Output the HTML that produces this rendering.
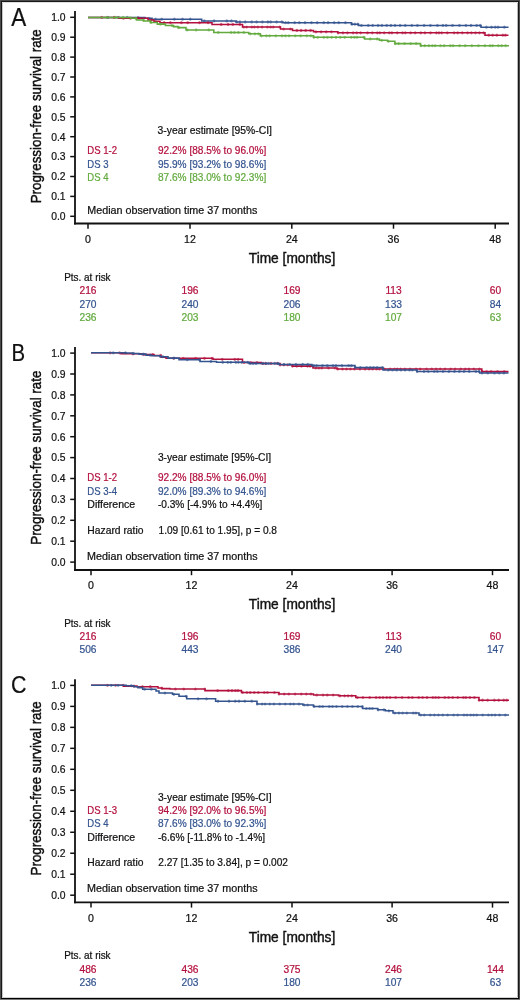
<!DOCTYPE html>
<html><head><meta charset="utf-8"><title>Kaplan-Meier progression-free survival</title>
<style>
html,body{margin:0;padding:0;background:#fff;}
body{width:520px;height:1000px;overflow:hidden;}
svg{display:block;will-change:transform;font-family:"Liberation Sans", sans-serif;}
text{stroke:currentColor;stroke-width:0.22px;}
text.big{stroke-width:0.42px;}
</style></head><body>
<svg width="520" height="1000" viewBox="0 0 520 1000">
<rect x="0" y="0" width="520" height="1000" fill="#4a4a4a"/>
<rect x="0" y="999" width="520" height="1" fill="#777"/>
<rect x="1" y="1" width="518" height="998" fill="#181818"/>
<rect x="1" y="998" width="518" height="1" fill="#000"/>
<rect x="2" y="2" width="516" height="996" fill="#fff"/>
<rect x="2" y="2" width="1" height="996" fill="#c8c8c8"/>
<rect x="517" y="2" width="1" height="996" fill="#b8b8b8"/>
<rect x="2" y="2" width="516" height="1" fill="#e0e0e0"/>
<rect x="2" y="997" width="516" height="1" fill="#d4d4d4"/>
<text x="11.3" y="25.5" font-size="25.6" fill="#111" color="#111" textLength="15.0" lengthAdjust="spacingAndGlyphs">A</text>
<line x1="75" y1="11" x2="75" y2="224.4" stroke="#111" stroke-width="1.8"/>
<line x1="74.1" y1="223.5" x2="509" y2="223.5" stroke="#111" stroke-width="1.8"/>
<line x1="70.2" y1="17.3" x2="75" y2="17.3" stroke="#111" stroke-width="1.5"/>
<text x="65.6" y="21.1" font-size="11" fill="#111" color="#111" text-anchor="end" textLength="14.4" lengthAdjust="spacingAndGlyphs">1.0</text>
<line x1="70.2" y1="37.2" x2="75" y2="37.2" stroke="#111" stroke-width="1.5"/>
<text x="65.6" y="41.0" font-size="11" fill="#111" color="#111" text-anchor="end" textLength="14.4" lengthAdjust="spacingAndGlyphs">0.9</text>
<line x1="70.2" y1="57.099999999999994" x2="75" y2="57.099999999999994" stroke="#111" stroke-width="1.5"/>
<text x="65.6" y="60.9" font-size="11" fill="#111" color="#111" text-anchor="end" textLength="14.4" lengthAdjust="spacingAndGlyphs">0.8</text>
<line x1="70.2" y1="77.0" x2="75" y2="77.0" stroke="#111" stroke-width="1.5"/>
<text x="65.6" y="80.8" font-size="11" fill="#111" color="#111" text-anchor="end" textLength="14.4" lengthAdjust="spacingAndGlyphs">0.7</text>
<line x1="70.2" y1="96.89999999999999" x2="75" y2="96.89999999999999" stroke="#111" stroke-width="1.5"/>
<text x="65.6" y="100.7" font-size="11" fill="#111" color="#111" text-anchor="end" textLength="14.4" lengthAdjust="spacingAndGlyphs">0.6</text>
<line x1="70.2" y1="116.8" x2="75" y2="116.8" stroke="#111" stroke-width="1.5"/>
<text x="65.6" y="120.6" font-size="11" fill="#111" color="#111" text-anchor="end" textLength="14.4" lengthAdjust="spacingAndGlyphs">0.5</text>
<line x1="70.2" y1="136.7" x2="75" y2="136.7" stroke="#111" stroke-width="1.5"/>
<text x="65.6" y="140.5" font-size="11" fill="#111" color="#111" text-anchor="end" textLength="14.4" lengthAdjust="spacingAndGlyphs">0.4</text>
<line x1="70.2" y1="156.6" x2="75" y2="156.6" stroke="#111" stroke-width="1.5"/>
<text x="65.6" y="160.4" font-size="11" fill="#111" color="#111" text-anchor="end" textLength="14.4" lengthAdjust="spacingAndGlyphs">0.3</text>
<line x1="70.2" y1="176.5" x2="75" y2="176.5" stroke="#111" stroke-width="1.5"/>
<text x="65.6" y="180.3" font-size="11" fill="#111" color="#111" text-anchor="end" textLength="14.4" lengthAdjust="spacingAndGlyphs">0.2</text>
<line x1="70.2" y1="196.4" x2="75" y2="196.4" stroke="#111" stroke-width="1.5"/>
<text x="65.6" y="200.2" font-size="11" fill="#111" color="#111" text-anchor="end" textLength="14.4" lengthAdjust="spacingAndGlyphs">0.1</text>
<line x1="70.2" y1="216.3" x2="75" y2="216.3" stroke="#111" stroke-width="1.5"/>
<text x="65.6" y="220.1" font-size="11" fill="#111" color="#111" text-anchor="end" textLength="14.4" lengthAdjust="spacingAndGlyphs">0.0</text>
<line x1="88" y1="223.5" x2="88" y2="228.7" stroke="#111" stroke-width="1.5"/>
<text x="88" y="242.5" font-size="10.6" fill="#111" color="#111" text-anchor="middle">0</text>
<line x1="190" y1="223.5" x2="190" y2="228.7" stroke="#111" stroke-width="1.5"/>
<text x="190" y="242.5" font-size="10.6" fill="#111" color="#111" text-anchor="middle">12</text>
<line x1="291.8" y1="223.5" x2="291.8" y2="228.7" stroke="#111" stroke-width="1.5"/>
<text x="291.8" y="242.5" font-size="10.6" fill="#111" color="#111" text-anchor="middle">24</text>
<line x1="393.5" y1="223.5" x2="393.5" y2="228.7" stroke="#111" stroke-width="1.5"/>
<text x="393.5" y="242.5" font-size="10.6" fill="#111" color="#111" text-anchor="middle">36</text>
<line x1="495.2" y1="223.5" x2="495.2" y2="228.7" stroke="#111" stroke-width="1.5"/>
<text x="495.2" y="242.5" font-size="10.6" fill="#111" color="#111" text-anchor="middle">48</text>
<text x="292" y="262.7" font-size="14.2" fill="#111" color="#111" text-anchor="middle" textLength="86.5" lengthAdjust="spacingAndGlyphs" class="big">Time [months]</text>
<text class="big" x="0" y="0" font-size="14.8" fill="#111" text-anchor="middle" textLength="174" lengthAdjust="spacingAndGlyphs" transform="translate(41.1,116.3) rotate(-90)">Progression-free survival rate</text>
<text x="64.2" y="280.59999999999997" font-size="10.3" fill="#111" color="#111" textLength="46.4" lengthAdjust="spacingAndGlyphs">Pts. at risk</text>
<text x="88" y="293.8" font-size="10.2" fill="#b3103e" color="#b3103e" text-anchor="middle">216</text>
<text x="190" y="293.8" font-size="10.2" fill="#b3103e" color="#b3103e" text-anchor="middle">196</text>
<text x="292" y="293.8" font-size="10.2" fill="#b3103e" color="#b3103e" text-anchor="middle">169</text>
<text x="393.5" y="293.8" font-size="10.2" fill="#b3103e" color="#b3103e" text-anchor="middle">113</text>
<text x="495.4" y="293.8" font-size="10.2" fill="#b3103e" color="#b3103e" text-anchor="middle">60</text>
<text x="88" y="307.5" font-size="10.2" fill="#34548f" color="#34548f" text-anchor="middle">270</text>
<text x="190" y="307.5" font-size="10.2" fill="#34548f" color="#34548f" text-anchor="middle">240</text>
<text x="292" y="307.5" font-size="10.2" fill="#34548f" color="#34548f" text-anchor="middle">206</text>
<text x="393.5" y="307.5" font-size="10.2" fill="#34548f" color="#34548f" text-anchor="middle">133</text>
<text x="495.4" y="307.5" font-size="10.2" fill="#34548f" color="#34548f" text-anchor="middle">84</text>
<text x="88" y="321" font-size="10.2" fill="#62aa3e" color="#62aa3e" text-anchor="middle">236</text>
<text x="190" y="321" font-size="10.2" fill="#62aa3e" color="#62aa3e" text-anchor="middle">203</text>
<text x="292" y="321" font-size="10.2" fill="#62aa3e" color="#62aa3e" text-anchor="middle">180</text>
<text x="393.5" y="321" font-size="10.2" fill="#62aa3e" color="#62aa3e" text-anchor="middle">107</text>
<text x="495.4" y="321" font-size="10.2" fill="#62aa3e" color="#62aa3e" text-anchor="middle">63</text>
<path d="M88,17.45H131V17.6H145V18.3H152V19.2H201.7V20.9H236V21.9H283V22.7H351.5V24.2H358.5V25.4H481V27.2H508.5" fill="none" stroke="#34548f" stroke-width="1.55" stroke-linejoin="miter"/>
<ellipse cx="107.9" cy="17.4" rx="1.3" ry="1.6" fill="#34548f" opacity="0.6"/>
<ellipse cx="118.3" cy="17.4" rx="1.3" ry="1.6" fill="#34548f" opacity="0.6"/>
<ellipse cx="127.2" cy="17.4" rx="1.3" ry="1.6" fill="#34548f" opacity="0.6"/>
<ellipse cx="138.0" cy="17.6" rx="1.3" ry="1.6" fill="#34548f" opacity="0.6"/>
<ellipse cx="149.1" cy="18.3" rx="1.3" ry="1.6" fill="#34548f" opacity="0.6"/>
<ellipse cx="155.6" cy="19.2" rx="1.3" ry="1.6" fill="#34548f" opacity="0.6"/>
<ellipse cx="161.7" cy="19.2" rx="1.3" ry="1.6" fill="#34548f" opacity="0.6"/>
<ellipse cx="174.4" cy="19.2" rx="1.3" ry="1.6" fill="#34548f" opacity="0.6"/>
<ellipse cx="182.5" cy="19.2" rx="1.3" ry="1.6" fill="#34548f" opacity="0.6"/>
<ellipse cx="190.3" cy="19.2" rx="1.3" ry="1.6" fill="#34548f" opacity="0.6"/>
<ellipse cx="204.3" cy="20.9" rx="1.3" ry="1.6" fill="#34548f" opacity="0.6"/>
<ellipse cx="214.1" cy="20.9" rx="1.3" ry="1.6" fill="#34548f" opacity="0.6"/>
<ellipse cx="226.8" cy="20.9" rx="1.3" ry="1.6" fill="#34548f" opacity="0.6"/>
<ellipse cx="231.4" cy="20.9" rx="1.3" ry="1.6" fill="#34548f" opacity="0.6"/>
<ellipse cx="236.8" cy="21.9" rx="1.3" ry="1.6" fill="#34548f" opacity="0.6"/>
<ellipse cx="239.9" cy="21.9" rx="1.3" ry="1.6" fill="#34548f" opacity="0.6"/>
<ellipse cx="245.3" cy="21.9" rx="1.3" ry="1.6" fill="#34548f" opacity="0.6"/>
<ellipse cx="251.7" cy="21.9" rx="1.3" ry="1.6" fill="#34548f" opacity="0.6"/>
<ellipse cx="256.6" cy="21.9" rx="1.3" ry="1.6" fill="#34548f" opacity="0.6"/>
<ellipse cx="262.4" cy="21.9" rx="1.3" ry="1.6" fill="#34548f" opacity="0.6"/>
<ellipse cx="267.9" cy="21.9" rx="1.3" ry="1.6" fill="#34548f" opacity="0.6"/>
<ellipse cx="270.7" cy="21.9" rx="1.3" ry="1.6" fill="#34548f" opacity="0.6"/>
<ellipse cx="276.6" cy="21.9" rx="1.3" ry="1.6" fill="#34548f" opacity="0.6"/>
<ellipse cx="281.8" cy="21.9" rx="1.3" ry="1.6" fill="#34548f" opacity="0.6"/>
<ellipse cx="285.6" cy="22.7" rx="1.3" ry="1.6" fill="#34548f" opacity="0.6"/>
<ellipse cx="288.3" cy="22.7" rx="1.3" ry="1.6" fill="#34548f" opacity="0.6"/>
<ellipse cx="294.7" cy="22.7" rx="1.3" ry="1.6" fill="#34548f" opacity="0.6"/>
<ellipse cx="299.3" cy="22.7" rx="1.3" ry="1.6" fill="#34548f" opacity="0.6"/>
<ellipse cx="305.0" cy="22.7" rx="1.3" ry="1.6" fill="#34548f" opacity="0.6"/>
<ellipse cx="311.5" cy="22.7" rx="1.3" ry="1.6" fill="#34548f" opacity="0.6"/>
<ellipse cx="317.2" cy="22.7" rx="1.3" ry="1.6" fill="#34548f" opacity="0.6"/>
<ellipse cx="323.8" cy="22.7" rx="1.3" ry="1.6" fill="#34548f" opacity="0.6"/>
<ellipse cx="328.1" cy="22.7" rx="1.3" ry="1.6" fill="#34548f" opacity="0.6"/>
<ellipse cx="334.2" cy="22.7" rx="1.3" ry="1.6" fill="#34548f" opacity="0.6"/>
<ellipse cx="338.7" cy="22.7" rx="1.3" ry="1.6" fill="#34548f" opacity="0.6"/>
<ellipse cx="345.4" cy="22.7" rx="1.3" ry="1.6" fill="#34548f" opacity="0.6"/>
<ellipse cx="351.9" cy="24.2" rx="1.3" ry="1.6" fill="#34548f" opacity="0.6"/>
<ellipse cx="354.8" cy="24.2" rx="1.3" ry="1.6" fill="#34548f" opacity="0.6"/>
<ellipse cx="357.9" cy="24.2" rx="1.3" ry="1.6" fill="#34548f" opacity="0.6"/>
<ellipse cx="361.4" cy="25.4" rx="1.3" ry="1.6" fill="#34548f" opacity="0.6"/>
<ellipse cx="368.3" cy="25.4" rx="1.3" ry="1.6" fill="#34548f" opacity="0.6"/>
<ellipse cx="372.7" cy="25.4" rx="1.3" ry="1.6" fill="#34548f" opacity="0.6"/>
<ellipse cx="378.1" cy="25.4" rx="1.3" ry="1.6" fill="#34548f" opacity="0.6"/>
<ellipse cx="381.9" cy="25.4" rx="1.3" ry="1.6" fill="#34548f" opacity="0.6"/>
<ellipse cx="386.7" cy="25.4" rx="1.3" ry="1.6" fill="#34548f" opacity="0.6"/>
<ellipse cx="390.9" cy="25.4" rx="1.3" ry="1.6" fill="#34548f" opacity="0.6"/>
<ellipse cx="395.0" cy="25.4" rx="1.3" ry="1.6" fill="#34548f" opacity="0.6"/>
<ellipse cx="400.1" cy="25.4" rx="1.3" ry="1.6" fill="#34548f" opacity="0.6"/>
<ellipse cx="405.3" cy="25.4" rx="1.3" ry="1.6" fill="#34548f" opacity="0.6"/>
<ellipse cx="411.8" cy="25.4" rx="1.3" ry="1.6" fill="#34548f" opacity="0.6"/>
<ellipse cx="417.4" cy="25.4" rx="1.3" ry="1.6" fill="#34548f" opacity="0.6"/>
<ellipse cx="424.1" cy="25.4" rx="1.3" ry="1.6" fill="#34548f" opacity="0.6"/>
<ellipse cx="430.4" cy="25.4" rx="1.3" ry="1.6" fill="#34548f" opacity="0.6"/>
<ellipse cx="437.4" cy="25.4" rx="1.3" ry="1.6" fill="#34548f" opacity="0.6"/>
<ellipse cx="442.9" cy="25.4" rx="1.3" ry="1.6" fill="#34548f" opacity="0.6"/>
<ellipse cx="446.2" cy="25.4" rx="1.3" ry="1.6" fill="#34548f" opacity="0.6"/>
<ellipse cx="452.5" cy="25.4" rx="1.3" ry="1.6" fill="#34548f" opacity="0.6"/>
<ellipse cx="459.4" cy="25.4" rx="1.3" ry="1.6" fill="#34548f" opacity="0.6"/>
<ellipse cx="465.9" cy="25.4" rx="1.3" ry="1.6" fill="#34548f" opacity="0.6"/>
<ellipse cx="471.0" cy="25.4" rx="1.3" ry="1.6" fill="#34548f" opacity="0.6"/>
<ellipse cx="476.7" cy="25.4" rx="1.3" ry="1.6" fill="#34548f" opacity="0.6"/>
<ellipse cx="480.2" cy="25.4" rx="1.3" ry="1.6" fill="#34548f" opacity="0.6"/>
<ellipse cx="486.4" cy="27.2" rx="1.3" ry="1.6" fill="#34548f" opacity="0.6"/>
<ellipse cx="491.5" cy="27.2" rx="1.3" ry="1.6" fill="#34548f" opacity="0.6"/>
<ellipse cx="495.3" cy="27.2" rx="1.3" ry="1.6" fill="#34548f" opacity="0.6"/>
<ellipse cx="498.1" cy="27.2" rx="1.3" ry="1.6" fill="#34548f" opacity="0.6"/>
<ellipse cx="504.4" cy="27.2" rx="1.3" ry="1.6" fill="#34548f" opacity="0.6"/>
<path d="M88,17.45H119V18.3H148V20H154V21.2H160V22.7H212V24.4H242.5V27.0H280.5V29.0H292.5V30.4H313.5V31.8H337.7V32.8H485V35.2H508.5" fill="none" stroke="#b3103e" stroke-width="1.55" stroke-linejoin="miter"/>
<ellipse cx="101.7" cy="17.4" rx="1.3" ry="1.6" fill="#b3103e" opacity="0.6"/>
<ellipse cx="114.1" cy="17.4" rx="1.3" ry="1.6" fill="#b3103e" opacity="0.6"/>
<ellipse cx="123.4" cy="18.3" rx="1.3" ry="1.6" fill="#b3103e" opacity="0.6"/>
<ellipse cx="130.6" cy="18.3" rx="1.3" ry="1.6" fill="#b3103e" opacity="0.6"/>
<ellipse cx="139.0" cy="18.3" rx="1.3" ry="1.6" fill="#b3103e" opacity="0.6"/>
<ellipse cx="151.1" cy="20.0" rx="1.3" ry="1.6" fill="#b3103e" opacity="0.6"/>
<ellipse cx="164.1" cy="22.7" rx="1.3" ry="1.6" fill="#b3103e" opacity="0.6"/>
<ellipse cx="170.4" cy="22.7" rx="1.3" ry="1.6" fill="#b3103e" opacity="0.6"/>
<ellipse cx="181.4" cy="22.7" rx="1.3" ry="1.6" fill="#b3103e" opacity="0.6"/>
<ellipse cx="187.7" cy="22.7" rx="1.3" ry="1.6" fill="#b3103e" opacity="0.6"/>
<ellipse cx="199.5" cy="22.7" rx="1.3" ry="1.6" fill="#b3103e" opacity="0.6"/>
<ellipse cx="208.1" cy="22.7" rx="1.3" ry="1.6" fill="#b3103e" opacity="0.6"/>
<ellipse cx="221.2" cy="24.4" rx="1.3" ry="1.6" fill="#b3103e" opacity="0.6"/>
<ellipse cx="228.1" cy="24.4" rx="1.3" ry="1.6" fill="#b3103e" opacity="0.6"/>
<ellipse cx="232.8" cy="24.4" rx="1.3" ry="1.6" fill="#b3103e" opacity="0.6"/>
<ellipse cx="239.8" cy="24.4" rx="1.3" ry="1.6" fill="#b3103e" opacity="0.6"/>
<ellipse cx="243.7" cy="27.0" rx="1.3" ry="1.6" fill="#b3103e" opacity="0.6"/>
<ellipse cx="246.6" cy="27.0" rx="1.3" ry="1.6" fill="#b3103e" opacity="0.6"/>
<ellipse cx="251.8" cy="27.0" rx="1.3" ry="1.6" fill="#b3103e" opacity="0.6"/>
<ellipse cx="254.4" cy="27.0" rx="1.3" ry="1.6" fill="#b3103e" opacity="0.6"/>
<ellipse cx="257.8" cy="27.0" rx="1.3" ry="1.6" fill="#b3103e" opacity="0.6"/>
<ellipse cx="262.1" cy="27.0" rx="1.3" ry="1.6" fill="#b3103e" opacity="0.6"/>
<ellipse cx="267.4" cy="27.0" rx="1.3" ry="1.6" fill="#b3103e" opacity="0.6"/>
<ellipse cx="270.6" cy="27.0" rx="1.3" ry="1.6" fill="#b3103e" opacity="0.6"/>
<ellipse cx="273.3" cy="27.0" rx="1.3" ry="1.6" fill="#b3103e" opacity="0.6"/>
<ellipse cx="279.7" cy="27.0" rx="1.3" ry="1.6" fill="#b3103e" opacity="0.6"/>
<ellipse cx="283.6" cy="29.0" rx="1.3" ry="1.6" fill="#b3103e" opacity="0.6"/>
<ellipse cx="290.4" cy="29.0" rx="1.3" ry="1.6" fill="#b3103e" opacity="0.6"/>
<ellipse cx="296.9" cy="30.4" rx="1.3" ry="1.6" fill="#b3103e" opacity="0.6"/>
<ellipse cx="301.1" cy="30.4" rx="1.3" ry="1.6" fill="#b3103e" opacity="0.6"/>
<ellipse cx="305.7" cy="30.4" rx="1.3" ry="1.6" fill="#b3103e" opacity="0.6"/>
<ellipse cx="310.6" cy="30.4" rx="1.3" ry="1.6" fill="#b3103e" opacity="0.6"/>
<ellipse cx="316.0" cy="31.8" rx="1.3" ry="1.6" fill="#b3103e" opacity="0.6"/>
<ellipse cx="321.1" cy="31.8" rx="1.3" ry="1.6" fill="#b3103e" opacity="0.6"/>
<ellipse cx="326.2" cy="31.8" rx="1.3" ry="1.6" fill="#b3103e" opacity="0.6"/>
<ellipse cx="331.4" cy="31.8" rx="1.3" ry="1.6" fill="#b3103e" opacity="0.6"/>
<ellipse cx="338.2" cy="32.8" rx="1.3" ry="1.6" fill="#b3103e" opacity="0.6"/>
<ellipse cx="343.0" cy="32.8" rx="1.3" ry="1.6" fill="#b3103e" opacity="0.6"/>
<ellipse cx="347.4" cy="32.8" rx="1.3" ry="1.6" fill="#b3103e" opacity="0.6"/>
<ellipse cx="353.1" cy="32.8" rx="1.3" ry="1.6" fill="#b3103e" opacity="0.6"/>
<ellipse cx="356.7" cy="32.8" rx="1.3" ry="1.6" fill="#b3103e" opacity="0.6"/>
<ellipse cx="360.6" cy="32.8" rx="1.3" ry="1.6" fill="#b3103e" opacity="0.6"/>
<ellipse cx="367.5" cy="32.8" rx="1.3" ry="1.6" fill="#b3103e" opacity="0.6"/>
<ellipse cx="372.3" cy="32.8" rx="1.3" ry="1.6" fill="#b3103e" opacity="0.6"/>
<ellipse cx="377.3" cy="32.8" rx="1.3" ry="1.6" fill="#b3103e" opacity="0.6"/>
<ellipse cx="379.8" cy="32.8" rx="1.3" ry="1.6" fill="#b3103e" opacity="0.6"/>
<ellipse cx="384.2" cy="32.8" rx="1.3" ry="1.6" fill="#b3103e" opacity="0.6"/>
<ellipse cx="389.3" cy="32.8" rx="1.3" ry="1.6" fill="#b3103e" opacity="0.6"/>
<ellipse cx="391.9" cy="32.8" rx="1.3" ry="1.6" fill="#b3103e" opacity="0.6"/>
<ellipse cx="397.2" cy="32.8" rx="1.3" ry="1.6" fill="#b3103e" opacity="0.6"/>
<ellipse cx="402.5" cy="32.8" rx="1.3" ry="1.6" fill="#b3103e" opacity="0.6"/>
<ellipse cx="405.3" cy="32.8" rx="1.3" ry="1.6" fill="#b3103e" opacity="0.6"/>
<ellipse cx="410.6" cy="32.8" rx="1.3" ry="1.6" fill="#b3103e" opacity="0.6"/>
<ellipse cx="415.2" cy="32.8" rx="1.3" ry="1.6" fill="#b3103e" opacity="0.6"/>
<ellipse cx="420.8" cy="32.8" rx="1.3" ry="1.6" fill="#b3103e" opacity="0.6"/>
<ellipse cx="424.9" cy="32.8" rx="1.3" ry="1.6" fill="#b3103e" opacity="0.6"/>
<ellipse cx="430.5" cy="32.8" rx="1.3" ry="1.6" fill="#b3103e" opacity="0.6"/>
<ellipse cx="436.4" cy="32.8" rx="1.3" ry="1.6" fill="#b3103e" opacity="0.6"/>
<ellipse cx="439.0" cy="32.8" rx="1.3" ry="1.6" fill="#b3103e" opacity="0.6"/>
<ellipse cx="441.7" cy="32.8" rx="1.3" ry="1.6" fill="#b3103e" opacity="0.6"/>
<ellipse cx="447.3" cy="32.8" rx="1.3" ry="1.6" fill="#b3103e" opacity="0.6"/>
<ellipse cx="454.1" cy="32.8" rx="1.3" ry="1.6" fill="#b3103e" opacity="0.6"/>
<ellipse cx="457.7" cy="32.8" rx="1.3" ry="1.6" fill="#b3103e" opacity="0.6"/>
<ellipse cx="462.3" cy="32.8" rx="1.3" ry="1.6" fill="#b3103e" opacity="0.6"/>
<ellipse cx="467.5" cy="32.8" rx="1.3" ry="1.6" fill="#b3103e" opacity="0.6"/>
<ellipse cx="471.4" cy="32.8" rx="1.3" ry="1.6" fill="#b3103e" opacity="0.6"/>
<ellipse cx="475.5" cy="32.8" rx="1.3" ry="1.6" fill="#b3103e" opacity="0.6"/>
<ellipse cx="479.4" cy="32.8" rx="1.3" ry="1.6" fill="#b3103e" opacity="0.6"/>
<ellipse cx="483.6" cy="32.8" rx="1.3" ry="1.6" fill="#b3103e" opacity="0.6"/>
<ellipse cx="488.8" cy="35.2" rx="1.3" ry="1.6" fill="#b3103e" opacity="0.6"/>
<ellipse cx="492.6" cy="35.2" rx="1.3" ry="1.6" fill="#b3103e" opacity="0.6"/>
<ellipse cx="496.8" cy="35.2" rx="1.3" ry="1.6" fill="#b3103e" opacity="0.6"/>
<ellipse cx="502.8" cy="35.2" rx="1.3" ry="1.6" fill="#b3103e" opacity="0.6"/>
<ellipse cx="505.4" cy="35.2" rx="1.3" ry="1.6" fill="#b3103e" opacity="0.6"/>
<path d="M88,17.45H130.8V18.3H136.5V20H143.5V21H150.4V22.4H157.3V24.1H165.4V25.5H173.5V26.6H178V27.6H186V29.9H213.8V32.4H248.8V33.8H260.3V35.8H313.5V37.3H364.6V38.9H379.4V40.3H387.5V41.3H394.9V43.6H420.5V45.7H509" fill="none" stroke="#62aa3e" stroke-width="1.55" stroke-linejoin="miter"/>
<ellipse cx="106.9" cy="17.4" rx="1.3" ry="1.6" fill="#62aa3e" opacity="0.6"/>
<ellipse cx="115.4" cy="17.4" rx="1.3" ry="1.6" fill="#62aa3e" opacity="0.6"/>
<ellipse cx="123.1" cy="17.4" rx="1.3" ry="1.6" fill="#62aa3e" opacity="0.6"/>
<ellipse cx="135.6" cy="18.3" rx="1.3" ry="1.6" fill="#62aa3e" opacity="0.6"/>
<ellipse cx="143.5" cy="20.0" rx="1.3" ry="1.6" fill="#62aa3e" opacity="0.6"/>
<ellipse cx="151.0" cy="22.4" rx="1.3" ry="1.6" fill="#62aa3e" opacity="0.6"/>
<ellipse cx="160.5" cy="24.1" rx="1.3" ry="1.6" fill="#62aa3e" opacity="0.6"/>
<ellipse cx="172.0" cy="25.5" rx="1.3" ry="1.6" fill="#62aa3e" opacity="0.6"/>
<ellipse cx="178.9" cy="27.6" rx="1.3" ry="1.6" fill="#62aa3e" opacity="0.6"/>
<ellipse cx="187.4" cy="29.9" rx="1.3" ry="1.6" fill="#62aa3e" opacity="0.6"/>
<ellipse cx="196.1" cy="29.9" rx="1.3" ry="1.6" fill="#62aa3e" opacity="0.6"/>
<ellipse cx="208.8" cy="29.9" rx="1.3" ry="1.6" fill="#62aa3e" opacity="0.6"/>
<ellipse cx="218.3" cy="32.4" rx="1.3" ry="1.6" fill="#62aa3e" opacity="0.6"/>
<ellipse cx="231.1" cy="32.4" rx="1.3" ry="1.6" fill="#62aa3e" opacity="0.6"/>
<ellipse cx="234.4" cy="32.4" rx="1.3" ry="1.6" fill="#62aa3e" opacity="0.6"/>
<ellipse cx="238.4" cy="32.4" rx="1.3" ry="1.6" fill="#62aa3e" opacity="0.6"/>
<ellipse cx="243.8" cy="32.4" rx="1.3" ry="1.6" fill="#62aa3e" opacity="0.6"/>
<ellipse cx="250.3" cy="33.8" rx="1.3" ry="1.6" fill="#62aa3e" opacity="0.6"/>
<ellipse cx="254.8" cy="33.8" rx="1.3" ry="1.6" fill="#62aa3e" opacity="0.6"/>
<ellipse cx="258.4" cy="33.8" rx="1.3" ry="1.6" fill="#62aa3e" opacity="0.6"/>
<ellipse cx="261.4" cy="35.8" rx="1.3" ry="1.6" fill="#62aa3e" opacity="0.6"/>
<ellipse cx="266.3" cy="35.8" rx="1.3" ry="1.6" fill="#62aa3e" opacity="0.6"/>
<ellipse cx="269.6" cy="35.8" rx="1.3" ry="1.6" fill="#62aa3e" opacity="0.6"/>
<ellipse cx="275.8" cy="35.8" rx="1.3" ry="1.6" fill="#62aa3e" opacity="0.6"/>
<ellipse cx="282.0" cy="35.8" rx="1.3" ry="1.6" fill="#62aa3e" opacity="0.6"/>
<ellipse cx="285.4" cy="35.8" rx="1.3" ry="1.6" fill="#62aa3e" opacity="0.6"/>
<ellipse cx="289.1" cy="35.8" rx="1.3" ry="1.6" fill="#62aa3e" opacity="0.6"/>
<ellipse cx="295.3" cy="35.8" rx="1.3" ry="1.6" fill="#62aa3e" opacity="0.6"/>
<ellipse cx="300.6" cy="35.8" rx="1.3" ry="1.6" fill="#62aa3e" opacity="0.6"/>
<ellipse cx="306.8" cy="35.8" rx="1.3" ry="1.6" fill="#62aa3e" opacity="0.6"/>
<ellipse cx="310.8" cy="35.8" rx="1.3" ry="1.6" fill="#62aa3e" opacity="0.6"/>
<ellipse cx="313.9" cy="37.3" rx="1.3" ry="1.6" fill="#62aa3e" opacity="0.6"/>
<ellipse cx="317.7" cy="37.3" rx="1.3" ry="1.6" fill="#62aa3e" opacity="0.6"/>
<ellipse cx="323.8" cy="37.3" rx="1.3" ry="1.6" fill="#62aa3e" opacity="0.6"/>
<ellipse cx="327.5" cy="37.3" rx="1.3" ry="1.6" fill="#62aa3e" opacity="0.6"/>
<ellipse cx="331.6" cy="37.3" rx="1.3" ry="1.6" fill="#62aa3e" opacity="0.6"/>
<ellipse cx="336.0" cy="37.3" rx="1.3" ry="1.6" fill="#62aa3e" opacity="0.6"/>
<ellipse cx="340.3" cy="37.3" rx="1.3" ry="1.6" fill="#62aa3e" opacity="0.6"/>
<ellipse cx="344.7" cy="37.3" rx="1.3" ry="1.6" fill="#62aa3e" opacity="0.6"/>
<ellipse cx="351.3" cy="37.3" rx="1.3" ry="1.6" fill="#62aa3e" opacity="0.6"/>
<ellipse cx="354.5" cy="37.3" rx="1.3" ry="1.6" fill="#62aa3e" opacity="0.6"/>
<ellipse cx="357.1" cy="37.3" rx="1.3" ry="1.6" fill="#62aa3e" opacity="0.6"/>
<ellipse cx="363.8" cy="37.3" rx="1.3" ry="1.6" fill="#62aa3e" opacity="0.6"/>
<ellipse cx="370.3" cy="38.9" rx="1.3" ry="1.6" fill="#62aa3e" opacity="0.6"/>
<ellipse cx="377.2" cy="38.9" rx="1.3" ry="1.6" fill="#62aa3e" opacity="0.6"/>
<ellipse cx="381.7" cy="40.3" rx="1.3" ry="1.6" fill="#62aa3e" opacity="0.6"/>
<ellipse cx="388.4" cy="41.3" rx="1.3" ry="1.6" fill="#62aa3e" opacity="0.6"/>
<ellipse cx="395.1" cy="43.6" rx="1.3" ry="1.6" fill="#62aa3e" opacity="0.6"/>
<ellipse cx="398.6" cy="43.6" rx="1.3" ry="1.6" fill="#62aa3e" opacity="0.6"/>
<ellipse cx="404.5" cy="43.6" rx="1.3" ry="1.6" fill="#62aa3e" opacity="0.6"/>
<ellipse cx="410.7" cy="43.6" rx="1.3" ry="1.6" fill="#62aa3e" opacity="0.6"/>
<ellipse cx="416.2" cy="43.6" rx="1.3" ry="1.6" fill="#62aa3e" opacity="0.6"/>
<ellipse cx="421.0" cy="45.7" rx="1.3" ry="1.6" fill="#62aa3e" opacity="0.6"/>
<ellipse cx="424.8" cy="45.7" rx="1.3" ry="1.6" fill="#62aa3e" opacity="0.6"/>
<ellipse cx="428.9" cy="45.7" rx="1.3" ry="1.6" fill="#62aa3e" opacity="0.6"/>
<ellipse cx="432.4" cy="45.7" rx="1.3" ry="1.6" fill="#62aa3e" opacity="0.6"/>
<ellipse cx="435.2" cy="45.7" rx="1.3" ry="1.6" fill="#62aa3e" opacity="0.6"/>
<ellipse cx="440.4" cy="45.7" rx="1.3" ry="1.6" fill="#62aa3e" opacity="0.6"/>
<ellipse cx="444.1" cy="45.7" rx="1.3" ry="1.6" fill="#62aa3e" opacity="0.6"/>
<ellipse cx="450.3" cy="45.7" rx="1.3" ry="1.6" fill="#62aa3e" opacity="0.6"/>
<ellipse cx="453.0" cy="45.7" rx="1.3" ry="1.6" fill="#62aa3e" opacity="0.6"/>
<ellipse cx="459.6" cy="45.7" rx="1.3" ry="1.6" fill="#62aa3e" opacity="0.6"/>
<ellipse cx="465.2" cy="45.7" rx="1.3" ry="1.6" fill="#62aa3e" opacity="0.6"/>
<ellipse cx="471.8" cy="45.7" rx="1.3" ry="1.6" fill="#62aa3e" opacity="0.6"/>
<ellipse cx="478.4" cy="45.7" rx="1.3" ry="1.6" fill="#62aa3e" opacity="0.6"/>
<ellipse cx="484.9" cy="45.7" rx="1.3" ry="1.6" fill="#62aa3e" opacity="0.6"/>
<ellipse cx="490.0" cy="45.7" rx="1.3" ry="1.6" fill="#62aa3e" opacity="0.6"/>
<ellipse cx="492.6" cy="45.7" rx="1.3" ry="1.6" fill="#62aa3e" opacity="0.6"/>
<ellipse cx="498.4" cy="45.7" rx="1.3" ry="1.6" fill="#62aa3e" opacity="0.6"/>
<ellipse cx="501.7" cy="45.7" rx="1.3" ry="1.6" fill="#62aa3e" opacity="0.6"/>
<ellipse cx="505.6" cy="45.7" rx="1.3" ry="1.6" fill="#62aa3e" opacity="0.6"/>
<text x="157.5" y="134.3" font-size="10.4" fill="#111" color="#111" textLength="114.5" lengthAdjust="spacingAndGlyphs">3-year estimate [95%-CI]</text>
<text x="87.3" y="154.1" font-size="10.4" fill="#b3103e" color="#b3103e" textLength="29.8" lengthAdjust="spacingAndGlyphs">DS 1-2</text>
<text x="158" y="154.1" font-size="10.4" fill="#b3103e" color="#b3103e" textLength="108.2" lengthAdjust="spacingAndGlyphs">92.2% [88.5% to 96.0%]</text>
<text x="87.3" y="167.6" font-size="10.4" fill="#34548f" color="#34548f" textLength="21.2" lengthAdjust="spacingAndGlyphs">DS 3</text>
<text x="158" y="167.6" font-size="10.4" fill="#34548f" color="#34548f" textLength="108.2" lengthAdjust="spacingAndGlyphs">95.9% [93.2% to 98.6%]</text>
<text x="87.3" y="181.2" font-size="10.4" fill="#62aa3e" color="#62aa3e" textLength="21.2" lengthAdjust="spacingAndGlyphs">DS 4</text>
<text x="158" y="181.2" font-size="10.4" fill="#62aa3e" color="#62aa3e" textLength="108.2" lengthAdjust="spacingAndGlyphs">87.6% [83.0% to 92.3%]</text>
<text x="87.3" y="213.8" font-size="10.4" fill="#111" color="#111" textLength="170" lengthAdjust="spacingAndGlyphs">Median observation time 37 months</text>
<text x="11.6" y="360.9" font-size="24" fill="#111" color="#111" textLength="13.6" lengthAdjust="spacingAndGlyphs">B</text>
<line x1="75" y1="347" x2="75" y2="570.9" stroke="#111" stroke-width="1.8"/>
<line x1="74.1" y1="570" x2="509" y2="570" stroke="#111" stroke-width="1.8"/>
<line x1="70.2" y1="353.1" x2="75" y2="353.1" stroke="#111" stroke-width="1.5"/>
<text x="65.6" y="356.9" font-size="11" fill="#111" color="#111" text-anchor="end" textLength="14.4" lengthAdjust="spacingAndGlyphs">1.0</text>
<line x1="70.2" y1="374.0" x2="75" y2="374.0" stroke="#111" stroke-width="1.5"/>
<text x="65.6" y="377.8" font-size="11" fill="#111" color="#111" text-anchor="end" textLength="14.4" lengthAdjust="spacingAndGlyphs">0.9</text>
<line x1="70.2" y1="394.90000000000003" x2="75" y2="394.90000000000003" stroke="#111" stroke-width="1.5"/>
<text x="65.6" y="398.7" font-size="11" fill="#111" color="#111" text-anchor="end" textLength="14.4" lengthAdjust="spacingAndGlyphs">0.8</text>
<line x1="70.2" y1="415.8" x2="75" y2="415.8" stroke="#111" stroke-width="1.5"/>
<text x="65.6" y="419.6" font-size="11" fill="#111" color="#111" text-anchor="end" textLength="14.4" lengthAdjust="spacingAndGlyphs">0.7</text>
<line x1="70.2" y1="436.70000000000005" x2="75" y2="436.70000000000005" stroke="#111" stroke-width="1.5"/>
<text x="65.6" y="440.5" font-size="11" fill="#111" color="#111" text-anchor="end" textLength="14.4" lengthAdjust="spacingAndGlyphs">0.6</text>
<line x1="70.2" y1="457.6" x2="75" y2="457.6" stroke="#111" stroke-width="1.5"/>
<text x="65.6" y="461.4" font-size="11" fill="#111" color="#111" text-anchor="end" textLength="14.4" lengthAdjust="spacingAndGlyphs">0.5</text>
<line x1="70.2" y1="478.5" x2="75" y2="478.5" stroke="#111" stroke-width="1.5"/>
<text x="65.6" y="482.3" font-size="11" fill="#111" color="#111" text-anchor="end" textLength="14.4" lengthAdjust="spacingAndGlyphs">0.4</text>
<line x1="70.2" y1="499.4" x2="75" y2="499.4" stroke="#111" stroke-width="1.5"/>
<text x="65.6" y="503.2" font-size="11" fill="#111" color="#111" text-anchor="end" textLength="14.4" lengthAdjust="spacingAndGlyphs">0.3</text>
<line x1="70.2" y1="520.3" x2="75" y2="520.3" stroke="#111" stroke-width="1.5"/>
<text x="65.6" y="524.1" font-size="11" fill="#111" color="#111" text-anchor="end" textLength="14.4" lengthAdjust="spacingAndGlyphs">0.2</text>
<line x1="70.2" y1="541.2" x2="75" y2="541.2" stroke="#111" stroke-width="1.5"/>
<text x="65.6" y="545.0" font-size="11" fill="#111" color="#111" text-anchor="end" textLength="14.4" lengthAdjust="spacingAndGlyphs">0.1</text>
<line x1="70.2" y1="562.1" x2="75" y2="562.1" stroke="#111" stroke-width="1.5"/>
<text x="65.6" y="565.9" font-size="11" fill="#111" color="#111" text-anchor="end" textLength="14.4" lengthAdjust="spacingAndGlyphs">0.0</text>
<line x1="91" y1="570" x2="91" y2="575.2" stroke="#111" stroke-width="1.5"/>
<text x="91" y="589" font-size="10.6" fill="#111" color="#111" text-anchor="middle">0</text>
<line x1="191.5" y1="570" x2="191.5" y2="575.2" stroke="#111" stroke-width="1.5"/>
<text x="191.5" y="589" font-size="10.6" fill="#111" color="#111" text-anchor="middle">12</text>
<line x1="292" y1="570" x2="292" y2="575.2" stroke="#111" stroke-width="1.5"/>
<text x="292" y="589" font-size="10.6" fill="#111" color="#111" text-anchor="middle">24</text>
<line x1="392.1" y1="570" x2="392.1" y2="575.2" stroke="#111" stroke-width="1.5"/>
<text x="392.1" y="589" font-size="10.6" fill="#111" color="#111" text-anchor="middle">36</text>
<line x1="492.5" y1="570" x2="492.5" y2="575.2" stroke="#111" stroke-width="1.5"/>
<text x="492.5" y="589" font-size="10.6" fill="#111" color="#111" text-anchor="middle">48</text>
<text x="292" y="609.2" font-size="14.2" fill="#111" color="#111" text-anchor="middle" textLength="86.5" lengthAdjust="spacingAndGlyphs" class="big">Time [months]</text>
<text class="big" x="0" y="0" font-size="14.8" fill="#111" text-anchor="middle" textLength="174" lengthAdjust="spacingAndGlyphs" transform="translate(41.1,457.7) rotate(-90)">Progression-free survival rate</text>
<text x="64.2" y="626.9" font-size="10.3" fill="#111" color="#111" textLength="46.4" lengthAdjust="spacingAndGlyphs">Pts. at risk</text>
<text x="88" y="639.8" font-size="10.2" fill="#b3103e" color="#b3103e" text-anchor="middle">216</text>
<text x="190" y="639.8" font-size="10.2" fill="#b3103e" color="#b3103e" text-anchor="middle">196</text>
<text x="292" y="639.8" font-size="10.2" fill="#b3103e" color="#b3103e" text-anchor="middle">169</text>
<text x="393.5" y="639.8" font-size="10.2" fill="#b3103e" color="#b3103e" text-anchor="middle">113</text>
<text x="495.4" y="639.8" font-size="10.2" fill="#b3103e" color="#b3103e" text-anchor="middle">60</text>
<text x="88" y="653.4" font-size="10.2" fill="#34548f" color="#34548f" text-anchor="middle">506</text>
<text x="190" y="653.4" font-size="10.2" fill="#34548f" color="#34548f" text-anchor="middle">443</text>
<text x="292" y="653.4" font-size="10.2" fill="#34548f" color="#34548f" text-anchor="middle">386</text>
<text x="393.5" y="653.4" font-size="10.2" fill="#34548f" color="#34548f" text-anchor="middle">240</text>
<text x="495.4" y="653.4" font-size="10.2" fill="#34548f" color="#34548f" text-anchor="middle">147</text>
<path d="M91,352.8H121V353.8H142V354.5H154V355.4H161V357.1H166V358.3H213V359.3H242.5V362.5H261.3V363.4H280V364.8H292.3V366.1H313V368H337V369H481.8V371.6H508.5" fill="none" stroke="#b3103e" stroke-width="1.55" stroke-linejoin="miter"/>
<ellipse cx="110.2" cy="352.8" rx="1.3" ry="1.6" fill="#b3103e" opacity="0.6"/>
<ellipse cx="119.5" cy="352.8" rx="1.3" ry="1.6" fill="#b3103e" opacity="0.6"/>
<ellipse cx="133.0" cy="353.8" rx="1.3" ry="1.6" fill="#b3103e" opacity="0.6"/>
<ellipse cx="143.9" cy="354.5" rx="1.3" ry="1.6" fill="#b3103e" opacity="0.6"/>
<ellipse cx="152.7" cy="354.5" rx="1.3" ry="1.6" fill="#b3103e" opacity="0.6"/>
<ellipse cx="160.7" cy="355.4" rx="1.3" ry="1.6" fill="#b3103e" opacity="0.6"/>
<ellipse cx="173.6" cy="358.3" rx="1.3" ry="1.6" fill="#b3103e" opacity="0.6"/>
<ellipse cx="183.4" cy="358.3" rx="1.3" ry="1.6" fill="#b3103e" opacity="0.6"/>
<ellipse cx="195.6" cy="358.3" rx="1.3" ry="1.6" fill="#b3103e" opacity="0.6"/>
<ellipse cx="204.5" cy="358.3" rx="1.3" ry="1.6" fill="#b3103e" opacity="0.6"/>
<ellipse cx="212.0" cy="358.3" rx="1.3" ry="1.6" fill="#b3103e" opacity="0.6"/>
<ellipse cx="222.3" cy="359.3" rx="1.3" ry="1.6" fill="#b3103e" opacity="0.6"/>
<ellipse cx="234.8" cy="359.3" rx="1.3" ry="1.6" fill="#b3103e" opacity="0.6"/>
<ellipse cx="238.1" cy="359.3" rx="1.3" ry="1.6" fill="#b3103e" opacity="0.6"/>
<ellipse cx="244.2" cy="362.5" rx="1.3" ry="1.6" fill="#b3103e" opacity="0.6"/>
<ellipse cx="250.8" cy="362.5" rx="1.3" ry="1.6" fill="#b3103e" opacity="0.6"/>
<ellipse cx="257.0" cy="362.5" rx="1.3" ry="1.6" fill="#b3103e" opacity="0.6"/>
<ellipse cx="263.2" cy="363.4" rx="1.3" ry="1.6" fill="#b3103e" opacity="0.6"/>
<ellipse cx="265.7" cy="363.4" rx="1.3" ry="1.6" fill="#b3103e" opacity="0.6"/>
<ellipse cx="271.0" cy="363.4" rx="1.3" ry="1.6" fill="#b3103e" opacity="0.6"/>
<ellipse cx="277.4" cy="363.4" rx="1.3" ry="1.6" fill="#b3103e" opacity="0.6"/>
<ellipse cx="280.1" cy="364.8" rx="1.3" ry="1.6" fill="#b3103e" opacity="0.6"/>
<ellipse cx="283.8" cy="364.8" rx="1.3" ry="1.6" fill="#b3103e" opacity="0.6"/>
<ellipse cx="287.6" cy="364.8" rx="1.3" ry="1.6" fill="#b3103e" opacity="0.6"/>
<ellipse cx="292.4" cy="366.1" rx="1.3" ry="1.6" fill="#b3103e" opacity="0.6"/>
<ellipse cx="296.8" cy="366.1" rx="1.3" ry="1.6" fill="#b3103e" opacity="0.6"/>
<ellipse cx="301.5" cy="366.1" rx="1.3" ry="1.6" fill="#b3103e" opacity="0.6"/>
<ellipse cx="307.5" cy="366.1" rx="1.3" ry="1.6" fill="#b3103e" opacity="0.6"/>
<ellipse cx="310.0" cy="366.1" rx="1.3" ry="1.6" fill="#b3103e" opacity="0.6"/>
<ellipse cx="312.7" cy="366.1" rx="1.3" ry="1.6" fill="#b3103e" opacity="0.6"/>
<ellipse cx="315.8" cy="368.0" rx="1.3" ry="1.6" fill="#b3103e" opacity="0.6"/>
<ellipse cx="318.8" cy="368.0" rx="1.3" ry="1.6" fill="#b3103e" opacity="0.6"/>
<ellipse cx="321.7" cy="368.0" rx="1.3" ry="1.6" fill="#b3103e" opacity="0.6"/>
<ellipse cx="328.5" cy="368.0" rx="1.3" ry="1.6" fill="#b3103e" opacity="0.6"/>
<ellipse cx="334.9" cy="368.0" rx="1.3" ry="1.6" fill="#b3103e" opacity="0.6"/>
<ellipse cx="337.8" cy="369.0" rx="1.3" ry="1.6" fill="#b3103e" opacity="0.6"/>
<ellipse cx="342.5" cy="369.0" rx="1.3" ry="1.6" fill="#b3103e" opacity="0.6"/>
<ellipse cx="346.5" cy="369.0" rx="1.3" ry="1.6" fill="#b3103e" opacity="0.6"/>
<ellipse cx="350.4" cy="369.0" rx="1.3" ry="1.6" fill="#b3103e" opacity="0.6"/>
<ellipse cx="354.4" cy="369.0" rx="1.3" ry="1.6" fill="#b3103e" opacity="0.6"/>
<ellipse cx="359.9" cy="369.0" rx="1.3" ry="1.6" fill="#b3103e" opacity="0.6"/>
<ellipse cx="365.0" cy="369.0" rx="1.3" ry="1.6" fill="#b3103e" opacity="0.6"/>
<ellipse cx="369.1" cy="369.0" rx="1.3" ry="1.6" fill="#b3103e" opacity="0.6"/>
<ellipse cx="372.5" cy="369.0" rx="1.3" ry="1.6" fill="#b3103e" opacity="0.6"/>
<ellipse cx="376.5" cy="369.0" rx="1.3" ry="1.6" fill="#b3103e" opacity="0.6"/>
<ellipse cx="379.5" cy="369.0" rx="1.3" ry="1.6" fill="#b3103e" opacity="0.6"/>
<ellipse cx="384.5" cy="369.0" rx="1.3" ry="1.6" fill="#b3103e" opacity="0.6"/>
<ellipse cx="390.2" cy="369.0" rx="1.3" ry="1.6" fill="#b3103e" opacity="0.6"/>
<ellipse cx="394.5" cy="369.0" rx="1.3" ry="1.6" fill="#b3103e" opacity="0.6"/>
<ellipse cx="397.3" cy="369.0" rx="1.3" ry="1.6" fill="#b3103e" opacity="0.6"/>
<ellipse cx="400.6" cy="369.0" rx="1.3" ry="1.6" fill="#b3103e" opacity="0.6"/>
<ellipse cx="404.8" cy="369.0" rx="1.3" ry="1.6" fill="#b3103e" opacity="0.6"/>
<ellipse cx="410.0" cy="369.0" rx="1.3" ry="1.6" fill="#b3103e" opacity="0.6"/>
<ellipse cx="416.0" cy="369.0" rx="1.3" ry="1.6" fill="#b3103e" opacity="0.6"/>
<ellipse cx="420.2" cy="369.0" rx="1.3" ry="1.6" fill="#b3103e" opacity="0.6"/>
<ellipse cx="426.4" cy="369.0" rx="1.3" ry="1.6" fill="#b3103e" opacity="0.6"/>
<ellipse cx="431.7" cy="369.0" rx="1.3" ry="1.6" fill="#b3103e" opacity="0.6"/>
<ellipse cx="436.1" cy="369.0" rx="1.3" ry="1.6" fill="#b3103e" opacity="0.6"/>
<ellipse cx="440.3" cy="369.0" rx="1.3" ry="1.6" fill="#b3103e" opacity="0.6"/>
<ellipse cx="445.0" cy="369.0" rx="1.3" ry="1.6" fill="#b3103e" opacity="0.6"/>
<ellipse cx="450.7" cy="369.0" rx="1.3" ry="1.6" fill="#b3103e" opacity="0.6"/>
<ellipse cx="455.1" cy="369.0" rx="1.3" ry="1.6" fill="#b3103e" opacity="0.6"/>
<ellipse cx="460.7" cy="369.0" rx="1.3" ry="1.6" fill="#b3103e" opacity="0.6"/>
<ellipse cx="465.3" cy="369.0" rx="1.3" ry="1.6" fill="#b3103e" opacity="0.6"/>
<ellipse cx="468.9" cy="369.0" rx="1.3" ry="1.6" fill="#b3103e" opacity="0.6"/>
<ellipse cx="473.8" cy="369.0" rx="1.3" ry="1.6" fill="#b3103e" opacity="0.6"/>
<ellipse cx="479.4" cy="369.0" rx="1.3" ry="1.6" fill="#b3103e" opacity="0.6"/>
<ellipse cx="482.2" cy="371.6" rx="1.3" ry="1.6" fill="#b3103e" opacity="0.6"/>
<ellipse cx="486.6" cy="371.6" rx="1.3" ry="1.6" fill="#b3103e" opacity="0.6"/>
<ellipse cx="491.1" cy="371.6" rx="1.3" ry="1.6" fill="#b3103e" opacity="0.6"/>
<ellipse cx="497.5" cy="371.6" rx="1.3" ry="1.6" fill="#b3103e" opacity="0.6"/>
<ellipse cx="504.2" cy="371.6" rx="1.3" ry="1.6" fill="#b3103e" opacity="0.6"/>
<path d="M91,352.8H126V353H132.4V353.4H139V354.1H146V355.2H152V355.7H160V356.7H168V358.1H179V359.7H200V361.4H216.5V362.3H249V363.4H279V364.4H312V365.6H355V367.5H383V370H417V371.4H479.7V373H508.5" fill="none" stroke="#34548f" stroke-width="1.55" stroke-linejoin="miter"/>
<ellipse cx="113.2" cy="352.8" rx="1.3" ry="1.6" fill="#34548f" opacity="0.6"/>
<ellipse cx="125.5" cy="352.8" rx="1.3" ry="1.6" fill="#34548f" opacity="0.6"/>
<ellipse cx="133.6" cy="353.4" rx="1.3" ry="1.6" fill="#34548f" opacity="0.6"/>
<ellipse cx="143.3" cy="354.1" rx="1.3" ry="1.6" fill="#34548f" opacity="0.6"/>
<ellipse cx="150.3" cy="355.2" rx="1.3" ry="1.6" fill="#34548f" opacity="0.6"/>
<ellipse cx="162.8" cy="356.7" rx="1.3" ry="1.6" fill="#34548f" opacity="0.6"/>
<ellipse cx="174.1" cy="358.1" rx="1.3" ry="1.6" fill="#34548f" opacity="0.6"/>
<ellipse cx="187.2" cy="359.7" rx="1.3" ry="1.6" fill="#34548f" opacity="0.6"/>
<ellipse cx="199.5" cy="359.7" rx="1.3" ry="1.6" fill="#34548f" opacity="0.6"/>
<ellipse cx="210.9" cy="361.4" rx="1.3" ry="1.6" fill="#34548f" opacity="0.6"/>
<ellipse cx="222.8" cy="362.3" rx="1.3" ry="1.6" fill="#34548f" opacity="0.6"/>
<ellipse cx="227.8" cy="362.3" rx="1.3" ry="1.6" fill="#34548f" opacity="0.6"/>
<ellipse cx="230.8" cy="362.3" rx="1.3" ry="1.6" fill="#34548f" opacity="0.6"/>
<ellipse cx="235.9" cy="362.3" rx="1.3" ry="1.6" fill="#34548f" opacity="0.6"/>
<ellipse cx="238.4" cy="362.3" rx="1.3" ry="1.6" fill="#34548f" opacity="0.6"/>
<ellipse cx="241.6" cy="362.3" rx="1.3" ry="1.6" fill="#34548f" opacity="0.6"/>
<ellipse cx="247.6" cy="362.3" rx="1.3" ry="1.6" fill="#34548f" opacity="0.6"/>
<ellipse cx="250.3" cy="363.4" rx="1.3" ry="1.6" fill="#34548f" opacity="0.6"/>
<ellipse cx="253.2" cy="363.4" rx="1.3" ry="1.6" fill="#34548f" opacity="0.6"/>
<ellipse cx="256.1" cy="363.4" rx="1.3" ry="1.6" fill="#34548f" opacity="0.6"/>
<ellipse cx="262.6" cy="363.4" rx="1.3" ry="1.6" fill="#34548f" opacity="0.6"/>
<ellipse cx="265.9" cy="363.4" rx="1.3" ry="1.6" fill="#34548f" opacity="0.6"/>
<ellipse cx="268.5" cy="363.4" rx="1.3" ry="1.6" fill="#34548f" opacity="0.6"/>
<ellipse cx="274.8" cy="363.4" rx="1.3" ry="1.6" fill="#34548f" opacity="0.6"/>
<ellipse cx="277.8" cy="363.4" rx="1.3" ry="1.6" fill="#34548f" opacity="0.6"/>
<ellipse cx="284.1" cy="364.4" rx="1.3" ry="1.6" fill="#34548f" opacity="0.6"/>
<ellipse cx="289.7" cy="364.4" rx="1.3" ry="1.6" fill="#34548f" opacity="0.6"/>
<ellipse cx="295.9" cy="364.4" rx="1.3" ry="1.6" fill="#34548f" opacity="0.6"/>
<ellipse cx="302.7" cy="364.4" rx="1.3" ry="1.6" fill="#34548f" opacity="0.6"/>
<ellipse cx="307.8" cy="364.4" rx="1.3" ry="1.6" fill="#34548f" opacity="0.6"/>
<ellipse cx="313.9" cy="365.6" rx="1.3" ry="1.6" fill="#34548f" opacity="0.6"/>
<ellipse cx="316.6" cy="365.6" rx="1.3" ry="1.6" fill="#34548f" opacity="0.6"/>
<ellipse cx="322.5" cy="365.6" rx="1.3" ry="1.6" fill="#34548f" opacity="0.6"/>
<ellipse cx="327.3" cy="365.6" rx="1.3" ry="1.6" fill="#34548f" opacity="0.6"/>
<ellipse cx="333.0" cy="365.6" rx="1.3" ry="1.6" fill="#34548f" opacity="0.6"/>
<ellipse cx="336.0" cy="365.6" rx="1.3" ry="1.6" fill="#34548f" opacity="0.6"/>
<ellipse cx="341.9" cy="365.6" rx="1.3" ry="1.6" fill="#34548f" opacity="0.6"/>
<ellipse cx="348.6" cy="365.6" rx="1.3" ry="1.6" fill="#34548f" opacity="0.6"/>
<ellipse cx="351.4" cy="365.6" rx="1.3" ry="1.6" fill="#34548f" opacity="0.6"/>
<ellipse cx="355.3" cy="367.5" rx="1.3" ry="1.6" fill="#34548f" opacity="0.6"/>
<ellipse cx="360.4" cy="367.5" rx="1.3" ry="1.6" fill="#34548f" opacity="0.6"/>
<ellipse cx="366.6" cy="367.5" rx="1.3" ry="1.6" fill="#34548f" opacity="0.6"/>
<ellipse cx="370.2" cy="367.5" rx="1.3" ry="1.6" fill="#34548f" opacity="0.6"/>
<ellipse cx="373.5" cy="367.5" rx="1.3" ry="1.6" fill="#34548f" opacity="0.6"/>
<ellipse cx="377.1" cy="367.5" rx="1.3" ry="1.6" fill="#34548f" opacity="0.6"/>
<ellipse cx="382.4" cy="367.5" rx="1.3" ry="1.6" fill="#34548f" opacity="0.6"/>
<ellipse cx="388.3" cy="370.0" rx="1.3" ry="1.6" fill="#34548f" opacity="0.6"/>
<ellipse cx="392.5" cy="370.0" rx="1.3" ry="1.6" fill="#34548f" opacity="0.6"/>
<ellipse cx="396.7" cy="370.0" rx="1.3" ry="1.6" fill="#34548f" opacity="0.6"/>
<ellipse cx="401.0" cy="370.0" rx="1.3" ry="1.6" fill="#34548f" opacity="0.6"/>
<ellipse cx="405.1" cy="370.0" rx="1.3" ry="1.6" fill="#34548f" opacity="0.6"/>
<ellipse cx="409.4" cy="370.0" rx="1.3" ry="1.6" fill="#34548f" opacity="0.6"/>
<ellipse cx="412.3" cy="370.0" rx="1.3" ry="1.6" fill="#34548f" opacity="0.6"/>
<ellipse cx="417.1" cy="371.4" rx="1.3" ry="1.6" fill="#34548f" opacity="0.6"/>
<ellipse cx="424.0" cy="371.4" rx="1.3" ry="1.6" fill="#34548f" opacity="0.6"/>
<ellipse cx="428.3" cy="371.4" rx="1.3" ry="1.6" fill="#34548f" opacity="0.6"/>
<ellipse cx="434.2" cy="371.4" rx="1.3" ry="1.6" fill="#34548f" opacity="0.6"/>
<ellipse cx="437.4" cy="371.4" rx="1.3" ry="1.6" fill="#34548f" opacity="0.6"/>
<ellipse cx="443.0" cy="371.4" rx="1.3" ry="1.6" fill="#34548f" opacity="0.6"/>
<ellipse cx="448.9" cy="371.4" rx="1.3" ry="1.6" fill="#34548f" opacity="0.6"/>
<ellipse cx="454.4" cy="371.4" rx="1.3" ry="1.6" fill="#34548f" opacity="0.6"/>
<ellipse cx="459.3" cy="371.4" rx="1.3" ry="1.6" fill="#34548f" opacity="0.6"/>
<ellipse cx="463.9" cy="371.4" rx="1.3" ry="1.6" fill="#34548f" opacity="0.6"/>
<ellipse cx="469.3" cy="371.4" rx="1.3" ry="1.6" fill="#34548f" opacity="0.6"/>
<ellipse cx="475.9" cy="371.4" rx="1.3" ry="1.6" fill="#34548f" opacity="0.6"/>
<ellipse cx="479.0" cy="371.4" rx="1.3" ry="1.6" fill="#34548f" opacity="0.6"/>
<ellipse cx="482.0" cy="373.0" rx="1.3" ry="1.6" fill="#34548f" opacity="0.6"/>
<ellipse cx="487.8" cy="373.0" rx="1.3" ry="1.6" fill="#34548f" opacity="0.6"/>
<ellipse cx="494.5" cy="373.0" rx="1.3" ry="1.6" fill="#34548f" opacity="0.6"/>
<ellipse cx="499.3" cy="373.0" rx="1.3" ry="1.6" fill="#34548f" opacity="0.6"/>
<ellipse cx="503.8" cy="373.0" rx="1.3" ry="1.6" fill="#34548f" opacity="0.6"/>
<text x="157.9" y="461.3" font-size="10.4" fill="#111" color="#111" textLength="113.3" lengthAdjust="spacingAndGlyphs">3-year estimate [95%-CI]</text>
<text x="87.3" y="481.2" font-size="10.4" fill="#b3103e" color="#b3103e" textLength="29.8" lengthAdjust="spacingAndGlyphs">DS 1-2</text>
<text x="158" y="481.2" font-size="10.4" fill="#b3103e" color="#b3103e" textLength="108.2" lengthAdjust="spacingAndGlyphs">92.2% [88.5% to 96.0%]</text>
<text x="87.3" y="494.6" font-size="10.4" fill="#34548f" color="#34548f" textLength="29.8" lengthAdjust="spacingAndGlyphs">DS 3-4</text>
<text x="158" y="494.6" font-size="10.4" fill="#34548f" color="#34548f" textLength="108.2" lengthAdjust="spacingAndGlyphs">92.0% [89.3% to 94.6%]</text>
<text x="87.3" y="507.9" font-size="10.4" fill="#111" color="#111" textLength="47.9" lengthAdjust="spacingAndGlyphs">Difference</text>
<text x="157.9" y="507.9" font-size="10.4" fill="#111" color="#111" textLength="104.4" lengthAdjust="spacingAndGlyphs">-0.3% [-4.9% to +4.4%]</text>
<text x="87.3" y="533.5" font-size="10.4" fill="#111" color="#111" textLength="56.2" lengthAdjust="spacingAndGlyphs">Hazard ratio</text>
<text x="158.5" y="533.5" font-size="10.4" fill="#111" color="#111" textLength="118.5" lengthAdjust="spacingAndGlyphs">1.09 [0.61 to 1.95], p = 0.8</text>
<text x="87.1" y="559.8" font-size="10.4" fill="#111" color="#111" textLength="170.5" lengthAdjust="spacingAndGlyphs">Median observation time 37 months</text>
<text x="10.9" y="693.4" font-size="24.6" fill="#111" color="#111" textLength="15.4" lengthAdjust="spacingAndGlyphs">C</text>
<line x1="75" y1="679.2" x2="75" y2="903.3" stroke="#111" stroke-width="1.8"/>
<line x1="74.1" y1="902.4" x2="509" y2="902.4" stroke="#111" stroke-width="1.8"/>
<line x1="70.2" y1="685.4" x2="75" y2="685.4" stroke="#111" stroke-width="1.5"/>
<text x="65.6" y="689.2" font-size="11" fill="#111" color="#111" text-anchor="end" textLength="14.4" lengthAdjust="spacingAndGlyphs">1.0</text>
<line x1="70.2" y1="706.38" x2="75" y2="706.38" stroke="#111" stroke-width="1.5"/>
<text x="65.6" y="710.18" font-size="11" fill="#111" color="#111" text-anchor="end" textLength="14.4" lengthAdjust="spacingAndGlyphs">0.9</text>
<line x1="70.2" y1="727.36" x2="75" y2="727.36" stroke="#111" stroke-width="1.5"/>
<text x="65.6" y="731.16" font-size="11" fill="#111" color="#111" text-anchor="end" textLength="14.4" lengthAdjust="spacingAndGlyphs">0.8</text>
<line x1="70.2" y1="748.3399999999999" x2="75" y2="748.3399999999999" stroke="#111" stroke-width="1.5"/>
<text x="65.6" y="752.14" font-size="11" fill="#111" color="#111" text-anchor="end" textLength="14.4" lengthAdjust="spacingAndGlyphs">0.7</text>
<line x1="70.2" y1="769.3199999999999" x2="75" y2="769.3199999999999" stroke="#111" stroke-width="1.5"/>
<text x="65.6" y="773.12" font-size="11" fill="#111" color="#111" text-anchor="end" textLength="14.4" lengthAdjust="spacingAndGlyphs">0.6</text>
<line x1="70.2" y1="790.3" x2="75" y2="790.3" stroke="#111" stroke-width="1.5"/>
<text x="65.6" y="794.1" font-size="11" fill="#111" color="#111" text-anchor="end" textLength="14.4" lengthAdjust="spacingAndGlyphs">0.5</text>
<line x1="70.2" y1="811.28" x2="75" y2="811.28" stroke="#111" stroke-width="1.5"/>
<text x="65.6" y="815.08" font-size="11" fill="#111" color="#111" text-anchor="end" textLength="14.4" lengthAdjust="spacingAndGlyphs">0.4</text>
<line x1="70.2" y1="832.26" x2="75" y2="832.26" stroke="#111" stroke-width="1.5"/>
<text x="65.6" y="836.06" font-size="11" fill="#111" color="#111" text-anchor="end" textLength="14.4" lengthAdjust="spacingAndGlyphs">0.3</text>
<line x1="70.2" y1="853.24" x2="75" y2="853.24" stroke="#111" stroke-width="1.5"/>
<text x="65.6" y="857.04" font-size="11" fill="#111" color="#111" text-anchor="end" textLength="14.4" lengthAdjust="spacingAndGlyphs">0.2</text>
<line x1="70.2" y1="874.22" x2="75" y2="874.22" stroke="#111" stroke-width="1.5"/>
<text x="65.6" y="878.02" font-size="11" fill="#111" color="#111" text-anchor="end" textLength="14.4" lengthAdjust="spacingAndGlyphs">0.1</text>
<line x1="70.2" y1="895.2" x2="75" y2="895.2" stroke="#111" stroke-width="1.5"/>
<text x="65.6" y="899.0" font-size="11" fill="#111" color="#111" text-anchor="end" textLength="14.4" lengthAdjust="spacingAndGlyphs">0.0</text>
<line x1="91" y1="902.4" x2="91" y2="907.6" stroke="#111" stroke-width="1.5"/>
<text x="91" y="921.7" font-size="10.6" fill="#111" color="#111" text-anchor="middle">0</text>
<line x1="191.5" y1="902.4" x2="191.5" y2="907.6" stroke="#111" stroke-width="1.5"/>
<text x="191.5" y="921.7" font-size="10.6" fill="#111" color="#111" text-anchor="middle">12</text>
<line x1="292" y1="902.4" x2="292" y2="907.6" stroke="#111" stroke-width="1.5"/>
<text x="292" y="921.7" font-size="10.6" fill="#111" color="#111" text-anchor="middle">24</text>
<line x1="392.1" y1="902.4" x2="392.1" y2="907.6" stroke="#111" stroke-width="1.5"/>
<text x="392.1" y="921.7" font-size="10.6" fill="#111" color="#111" text-anchor="middle">36</text>
<line x1="492.5" y1="902.4" x2="492.5" y2="907.6" stroke="#111" stroke-width="1.5"/>
<text x="492.5" y="921.7" font-size="10.6" fill="#111" color="#111" text-anchor="middle">48</text>
<text x="292" y="941.5" font-size="14.2" fill="#111" color="#111" text-anchor="middle" textLength="86.5" lengthAdjust="spacingAndGlyphs" class="big">Time [months]</text>
<text class="big" x="0" y="0" font-size="14.8" fill="#111" text-anchor="middle" textLength="174" lengthAdjust="spacingAndGlyphs" transform="translate(41.1,788.4) rotate(-90)">Progression-free survival rate</text>
<text x="64.2" y="959.1999999999999" font-size="10.3" fill="#111" color="#111" textLength="46.4" lengthAdjust="spacingAndGlyphs">Pts. at risk</text>
<text x="88" y="972.8" font-size="10.2" fill="#b3103e" color="#b3103e" text-anchor="middle">486</text>
<text x="190" y="972.8" font-size="10.2" fill="#b3103e" color="#b3103e" text-anchor="middle">436</text>
<text x="292" y="972.8" font-size="10.2" fill="#b3103e" color="#b3103e" text-anchor="middle">375</text>
<text x="393.5" y="972.8" font-size="10.2" fill="#b3103e" color="#b3103e" text-anchor="middle">246</text>
<text x="495.4" y="972.8" font-size="10.2" fill="#b3103e" color="#b3103e" text-anchor="middle">144</text>
<text x="88" y="986.4" font-size="10.2" fill="#34548f" color="#34548f" text-anchor="middle">236</text>
<text x="190" y="986.4" font-size="10.2" fill="#34548f" color="#34548f" text-anchor="middle">203</text>
<text x="292" y="986.4" font-size="10.2" fill="#34548f" color="#34548f" text-anchor="middle">180</text>
<text x="393.5" y="986.4" font-size="10.2" fill="#34548f" color="#34548f" text-anchor="middle">107</text>
<text x="495.4" y="986.4" font-size="10.2" fill="#34548f" color="#34548f" text-anchor="middle">63</text>
<path d="M91,685.3H123.5V686.1H137V686.7H158V688H162V688.6H170V689H205V690.6H241.5V692.5H279V694H313.5V695H338.5V695.8H355.8V697.5H479V700.2H509" fill="none" stroke="#b3103e" stroke-width="1.55" stroke-linejoin="miter"/>
<ellipse cx="107.5" cy="685.3" rx="1.3" ry="1.6" fill="#b3103e" opacity="0.6"/>
<ellipse cx="115.6" cy="685.3" rx="1.3" ry="1.6" fill="#b3103e" opacity="0.6"/>
<ellipse cx="123.2" cy="685.3" rx="1.3" ry="1.6" fill="#b3103e" opacity="0.6"/>
<ellipse cx="133.9" cy="686.1" rx="1.3" ry="1.6" fill="#b3103e" opacity="0.6"/>
<ellipse cx="142.4" cy="686.7" rx="1.3" ry="1.6" fill="#b3103e" opacity="0.6"/>
<ellipse cx="150.3" cy="686.7" rx="1.3" ry="1.6" fill="#b3103e" opacity="0.6"/>
<ellipse cx="161.8" cy="688.0" rx="1.3" ry="1.6" fill="#b3103e" opacity="0.6"/>
<ellipse cx="175.4" cy="689.0" rx="1.3" ry="1.6" fill="#b3103e" opacity="0.6"/>
<ellipse cx="183.8" cy="689.0" rx="1.3" ry="1.6" fill="#b3103e" opacity="0.6"/>
<ellipse cx="195.4" cy="689.0" rx="1.3" ry="1.6" fill="#b3103e" opacity="0.6"/>
<ellipse cx="204.8" cy="689.0" rx="1.3" ry="1.6" fill="#b3103e" opacity="0.6"/>
<ellipse cx="217.6" cy="690.6" rx="1.3" ry="1.6" fill="#b3103e" opacity="0.6"/>
<ellipse cx="228.3" cy="690.6" rx="1.3" ry="1.6" fill="#b3103e" opacity="0.6"/>
<ellipse cx="232.0" cy="690.6" rx="1.3" ry="1.6" fill="#b3103e" opacity="0.6"/>
<ellipse cx="235.4" cy="690.6" rx="1.3" ry="1.6" fill="#b3103e" opacity="0.6"/>
<ellipse cx="238.0" cy="690.6" rx="1.3" ry="1.6" fill="#b3103e" opacity="0.6"/>
<ellipse cx="242.7" cy="692.5" rx="1.3" ry="1.6" fill="#b3103e" opacity="0.6"/>
<ellipse cx="246.9" cy="692.5" rx="1.3" ry="1.6" fill="#b3103e" opacity="0.6"/>
<ellipse cx="250.2" cy="692.5" rx="1.3" ry="1.6" fill="#b3103e" opacity="0.6"/>
<ellipse cx="254.3" cy="692.5" rx="1.3" ry="1.6" fill="#b3103e" opacity="0.6"/>
<ellipse cx="258.3" cy="692.5" rx="1.3" ry="1.6" fill="#b3103e" opacity="0.6"/>
<ellipse cx="264.3" cy="692.5" rx="1.3" ry="1.6" fill="#b3103e" opacity="0.6"/>
<ellipse cx="267.4" cy="692.5" rx="1.3" ry="1.6" fill="#b3103e" opacity="0.6"/>
<ellipse cx="274.4" cy="692.5" rx="1.3" ry="1.6" fill="#b3103e" opacity="0.6"/>
<ellipse cx="279.0" cy="694.0" rx="1.3" ry="1.6" fill="#b3103e" opacity="0.6"/>
<ellipse cx="284.2" cy="694.0" rx="1.3" ry="1.6" fill="#b3103e" opacity="0.6"/>
<ellipse cx="288.8" cy="694.0" rx="1.3" ry="1.6" fill="#b3103e" opacity="0.6"/>
<ellipse cx="295.1" cy="694.0" rx="1.3" ry="1.6" fill="#b3103e" opacity="0.6"/>
<ellipse cx="301.3" cy="694.0" rx="1.3" ry="1.6" fill="#b3103e" opacity="0.6"/>
<ellipse cx="306.3" cy="694.0" rx="1.3" ry="1.6" fill="#b3103e" opacity="0.6"/>
<ellipse cx="310.9" cy="694.0" rx="1.3" ry="1.6" fill="#b3103e" opacity="0.6"/>
<ellipse cx="316.7" cy="695.0" rx="1.3" ry="1.6" fill="#b3103e" opacity="0.6"/>
<ellipse cx="323.0" cy="695.0" rx="1.3" ry="1.6" fill="#b3103e" opacity="0.6"/>
<ellipse cx="327.3" cy="695.0" rx="1.3" ry="1.6" fill="#b3103e" opacity="0.6"/>
<ellipse cx="333.2" cy="695.0" rx="1.3" ry="1.6" fill="#b3103e" opacity="0.6"/>
<ellipse cx="340.0" cy="695.8" rx="1.3" ry="1.6" fill="#b3103e" opacity="0.6"/>
<ellipse cx="344.6" cy="695.8" rx="1.3" ry="1.6" fill="#b3103e" opacity="0.6"/>
<ellipse cx="348.1" cy="695.8" rx="1.3" ry="1.6" fill="#b3103e" opacity="0.6"/>
<ellipse cx="351.7" cy="695.8" rx="1.3" ry="1.6" fill="#b3103e" opacity="0.6"/>
<ellipse cx="357.4" cy="697.5" rx="1.3" ry="1.6" fill="#b3103e" opacity="0.6"/>
<ellipse cx="362.9" cy="697.5" rx="1.3" ry="1.6" fill="#b3103e" opacity="0.6"/>
<ellipse cx="369.7" cy="697.5" rx="1.3" ry="1.6" fill="#b3103e" opacity="0.6"/>
<ellipse cx="376.1" cy="697.5" rx="1.3" ry="1.6" fill="#b3103e" opacity="0.6"/>
<ellipse cx="379.7" cy="697.5" rx="1.3" ry="1.6" fill="#b3103e" opacity="0.6"/>
<ellipse cx="383.0" cy="697.5" rx="1.3" ry="1.6" fill="#b3103e" opacity="0.6"/>
<ellipse cx="386.7" cy="697.5" rx="1.3" ry="1.6" fill="#b3103e" opacity="0.6"/>
<ellipse cx="390.0" cy="697.5" rx="1.3" ry="1.6" fill="#b3103e" opacity="0.6"/>
<ellipse cx="395.7" cy="697.5" rx="1.3" ry="1.6" fill="#b3103e" opacity="0.6"/>
<ellipse cx="402.1" cy="697.5" rx="1.3" ry="1.6" fill="#b3103e" opacity="0.6"/>
<ellipse cx="408.6" cy="697.5" rx="1.3" ry="1.6" fill="#b3103e" opacity="0.6"/>
<ellipse cx="412.3" cy="697.5" rx="1.3" ry="1.6" fill="#b3103e" opacity="0.6"/>
<ellipse cx="418.7" cy="697.5" rx="1.3" ry="1.6" fill="#b3103e" opacity="0.6"/>
<ellipse cx="422.6" cy="697.5" rx="1.3" ry="1.6" fill="#b3103e" opacity="0.6"/>
<ellipse cx="427.0" cy="697.5" rx="1.3" ry="1.6" fill="#b3103e" opacity="0.6"/>
<ellipse cx="432.8" cy="697.5" rx="1.3" ry="1.6" fill="#b3103e" opacity="0.6"/>
<ellipse cx="435.6" cy="697.5" rx="1.3" ry="1.6" fill="#b3103e" opacity="0.6"/>
<ellipse cx="438.6" cy="697.5" rx="1.3" ry="1.6" fill="#b3103e" opacity="0.6"/>
<ellipse cx="444.8" cy="697.5" rx="1.3" ry="1.6" fill="#b3103e" opacity="0.6"/>
<ellipse cx="448.6" cy="697.5" rx="1.3" ry="1.6" fill="#b3103e" opacity="0.6"/>
<ellipse cx="452.7" cy="697.5" rx="1.3" ry="1.6" fill="#b3103e" opacity="0.6"/>
<ellipse cx="457.8" cy="697.5" rx="1.3" ry="1.6" fill="#b3103e" opacity="0.6"/>
<ellipse cx="463.4" cy="697.5" rx="1.3" ry="1.6" fill="#b3103e" opacity="0.6"/>
<ellipse cx="465.9" cy="697.5" rx="1.3" ry="1.6" fill="#b3103e" opacity="0.6"/>
<ellipse cx="469.9" cy="697.5" rx="1.3" ry="1.6" fill="#b3103e" opacity="0.6"/>
<ellipse cx="474.4" cy="697.5" rx="1.3" ry="1.6" fill="#b3103e" opacity="0.6"/>
<ellipse cx="479.1" cy="700.2" rx="1.3" ry="1.6" fill="#b3103e" opacity="0.6"/>
<ellipse cx="482.5" cy="700.2" rx="1.3" ry="1.6" fill="#b3103e" opacity="0.6"/>
<ellipse cx="487.6" cy="700.2" rx="1.3" ry="1.6" fill="#b3103e" opacity="0.6"/>
<ellipse cx="494.4" cy="700.2" rx="1.3" ry="1.6" fill="#b3103e" opacity="0.6"/>
<ellipse cx="498.7" cy="700.2" rx="1.3" ry="1.6" fill="#b3103e" opacity="0.6"/>
<ellipse cx="503.7" cy="700.2" rx="1.3" ry="1.6" fill="#b3103e" opacity="0.6"/>
<ellipse cx="506.7" cy="700.2" rx="1.3" ry="1.6" fill="#b3103e" opacity="0.6"/>
<path d="M91,685.3H126.3V685.7H134V686.7H138V687.6H142.7V689.2H156V691H159V693H172.5V694.3H179V696.3H186.7V698.8H215.6V701.2H257V704H302.9V705H313.5V706.5H362.5V708.5H377.7V709.8H385.4V710.8H393V713H419V715H509" fill="none" stroke="#34548f" stroke-width="1.55" stroke-linejoin="miter"/>
<ellipse cx="111.3" cy="685.3" rx="1.3" ry="1.6" fill="#34548f" opacity="0.6"/>
<ellipse cx="118.2" cy="685.3" rx="1.3" ry="1.6" fill="#34548f" opacity="0.6"/>
<ellipse cx="131.3" cy="685.7" rx="1.3" ry="1.6" fill="#34548f" opacity="0.6"/>
<ellipse cx="144.6" cy="689.2" rx="1.3" ry="1.6" fill="#34548f" opacity="0.6"/>
<ellipse cx="151.4" cy="689.2" rx="1.3" ry="1.6" fill="#34548f" opacity="0.6"/>
<ellipse cx="164.9" cy="693.0" rx="1.3" ry="1.6" fill="#34548f" opacity="0.6"/>
<ellipse cx="173.9" cy="694.3" rx="1.3" ry="1.6" fill="#34548f" opacity="0.6"/>
<ellipse cx="186.1" cy="696.3" rx="1.3" ry="1.6" fill="#34548f" opacity="0.6"/>
<ellipse cx="198.1" cy="698.8" rx="1.3" ry="1.6" fill="#34548f" opacity="0.6"/>
<ellipse cx="206.5" cy="698.8" rx="1.3" ry="1.6" fill="#34548f" opacity="0.6"/>
<ellipse cx="217.9" cy="701.2" rx="1.3" ry="1.6" fill="#34548f" opacity="0.6"/>
<ellipse cx="229.1" cy="701.2" rx="1.3" ry="1.6" fill="#34548f" opacity="0.6"/>
<ellipse cx="235.3" cy="701.2" rx="1.3" ry="1.6" fill="#34548f" opacity="0.6"/>
<ellipse cx="239.0" cy="701.2" rx="1.3" ry="1.6" fill="#34548f" opacity="0.6"/>
<ellipse cx="244.8" cy="701.2" rx="1.3" ry="1.6" fill="#34548f" opacity="0.6"/>
<ellipse cx="251.7" cy="701.2" rx="1.3" ry="1.6" fill="#34548f" opacity="0.6"/>
<ellipse cx="257.2" cy="704.0" rx="1.3" ry="1.6" fill="#34548f" opacity="0.6"/>
<ellipse cx="262.1" cy="704.0" rx="1.3" ry="1.6" fill="#34548f" opacity="0.6"/>
<ellipse cx="265.1" cy="704.0" rx="1.3" ry="1.6" fill="#34548f" opacity="0.6"/>
<ellipse cx="269.8" cy="704.0" rx="1.3" ry="1.6" fill="#34548f" opacity="0.6"/>
<ellipse cx="273.9" cy="704.0" rx="1.3" ry="1.6" fill="#34548f" opacity="0.6"/>
<ellipse cx="279.7" cy="704.0" rx="1.3" ry="1.6" fill="#34548f" opacity="0.6"/>
<ellipse cx="285.2" cy="704.0" rx="1.3" ry="1.6" fill="#34548f" opacity="0.6"/>
<ellipse cx="290.3" cy="704.0" rx="1.3" ry="1.6" fill="#34548f" opacity="0.6"/>
<ellipse cx="293.6" cy="704.0" rx="1.3" ry="1.6" fill="#34548f" opacity="0.6"/>
<ellipse cx="299.0" cy="704.0" rx="1.3" ry="1.6" fill="#34548f" opacity="0.6"/>
<ellipse cx="304.3" cy="705.0" rx="1.3" ry="1.6" fill="#34548f" opacity="0.6"/>
<ellipse cx="307.6" cy="705.0" rx="1.3" ry="1.6" fill="#34548f" opacity="0.6"/>
<ellipse cx="314.1" cy="706.5" rx="1.3" ry="1.6" fill="#34548f" opacity="0.6"/>
<ellipse cx="319.6" cy="706.5" rx="1.3" ry="1.6" fill="#34548f" opacity="0.6"/>
<ellipse cx="322.6" cy="706.5" rx="1.3" ry="1.6" fill="#34548f" opacity="0.6"/>
<ellipse cx="329.3" cy="706.5" rx="1.3" ry="1.6" fill="#34548f" opacity="0.6"/>
<ellipse cx="332.5" cy="706.5" rx="1.3" ry="1.6" fill="#34548f" opacity="0.6"/>
<ellipse cx="336.5" cy="706.5" rx="1.3" ry="1.6" fill="#34548f" opacity="0.6"/>
<ellipse cx="342.2" cy="706.5" rx="1.3" ry="1.6" fill="#34548f" opacity="0.6"/>
<ellipse cx="347.4" cy="706.5" rx="1.3" ry="1.6" fill="#34548f" opacity="0.6"/>
<ellipse cx="352.4" cy="706.5" rx="1.3" ry="1.6" fill="#34548f" opacity="0.6"/>
<ellipse cx="357.8" cy="706.5" rx="1.3" ry="1.6" fill="#34548f" opacity="0.6"/>
<ellipse cx="362.4" cy="706.5" rx="1.3" ry="1.6" fill="#34548f" opacity="0.6"/>
<ellipse cx="366.3" cy="708.5" rx="1.3" ry="1.6" fill="#34548f" opacity="0.6"/>
<ellipse cx="369.6" cy="708.5" rx="1.3" ry="1.6" fill="#34548f" opacity="0.6"/>
<ellipse cx="372.4" cy="708.5" rx="1.3" ry="1.6" fill="#34548f" opacity="0.6"/>
<ellipse cx="378.1" cy="709.8" rx="1.3" ry="1.6" fill="#34548f" opacity="0.6"/>
<ellipse cx="384.0" cy="709.8" rx="1.3" ry="1.6" fill="#34548f" opacity="0.6"/>
<ellipse cx="388.9" cy="710.8" rx="1.3" ry="1.6" fill="#34548f" opacity="0.6"/>
<ellipse cx="394.8" cy="713.0" rx="1.3" ry="1.6" fill="#34548f" opacity="0.6"/>
<ellipse cx="398.9" cy="713.0" rx="1.3" ry="1.6" fill="#34548f" opacity="0.6"/>
<ellipse cx="402.6" cy="713.0" rx="1.3" ry="1.6" fill="#34548f" opacity="0.6"/>
<ellipse cx="406.8" cy="713.0" rx="1.3" ry="1.6" fill="#34548f" opacity="0.6"/>
<ellipse cx="413.2" cy="713.0" rx="1.3" ry="1.6" fill="#34548f" opacity="0.6"/>
<ellipse cx="415.9" cy="713.0" rx="1.3" ry="1.6" fill="#34548f" opacity="0.6"/>
<ellipse cx="420.7" cy="715.0" rx="1.3" ry="1.6" fill="#34548f" opacity="0.6"/>
<ellipse cx="424.3" cy="715.0" rx="1.3" ry="1.6" fill="#34548f" opacity="0.6"/>
<ellipse cx="430.3" cy="715.0" rx="1.3" ry="1.6" fill="#34548f" opacity="0.6"/>
<ellipse cx="434.4" cy="715.0" rx="1.3" ry="1.6" fill="#34548f" opacity="0.6"/>
<ellipse cx="438.4" cy="715.0" rx="1.3" ry="1.6" fill="#34548f" opacity="0.6"/>
<ellipse cx="442.7" cy="715.0" rx="1.3" ry="1.6" fill="#34548f" opacity="0.6"/>
<ellipse cx="447.6" cy="715.0" rx="1.3" ry="1.6" fill="#34548f" opacity="0.6"/>
<ellipse cx="453.6" cy="715.0" rx="1.3" ry="1.6" fill="#34548f" opacity="0.6"/>
<ellipse cx="457.7" cy="715.0" rx="1.3" ry="1.6" fill="#34548f" opacity="0.6"/>
<ellipse cx="464.0" cy="715.0" rx="1.3" ry="1.6" fill="#34548f" opacity="0.6"/>
<ellipse cx="467.0" cy="715.0" rx="1.3" ry="1.6" fill="#34548f" opacity="0.6"/>
<ellipse cx="470.7" cy="715.0" rx="1.3" ry="1.6" fill="#34548f" opacity="0.6"/>
<ellipse cx="473.6" cy="715.0" rx="1.3" ry="1.6" fill="#34548f" opacity="0.6"/>
<ellipse cx="476.7" cy="715.0" rx="1.3" ry="1.6" fill="#34548f" opacity="0.6"/>
<ellipse cx="482.7" cy="715.0" rx="1.3" ry="1.6" fill="#34548f" opacity="0.6"/>
<ellipse cx="488.4" cy="715.0" rx="1.3" ry="1.6" fill="#34548f" opacity="0.6"/>
<ellipse cx="491.8" cy="715.0" rx="1.3" ry="1.6" fill="#34548f" opacity="0.6"/>
<ellipse cx="495.1" cy="715.0" rx="1.3" ry="1.6" fill="#34548f" opacity="0.6"/>
<ellipse cx="499.5" cy="715.0" rx="1.3" ry="1.6" fill="#34548f" opacity="0.6"/>
<ellipse cx="505.3" cy="715.0" rx="1.3" ry="1.6" fill="#34548f" opacity="0.6"/>
<text x="157.9" y="800.6" font-size="10.4" fill="#111" color="#111" textLength="113.6" lengthAdjust="spacingAndGlyphs">3-year estimate [95%-CI]</text>
<text x="87.3" y="813.7" font-size="10.4" fill="#b3103e" color="#b3103e" textLength="29.8" lengthAdjust="spacingAndGlyphs">DS 1-3</text>
<text x="158" y="813.7" font-size="10.4" fill="#b3103e" color="#b3103e" textLength="108.3" lengthAdjust="spacingAndGlyphs">94.2% [92.0% to 96.5%]</text>
<text x="87.3" y="827.1" font-size="10.4" fill="#34548f" color="#34548f" textLength="21.2" lengthAdjust="spacingAndGlyphs">DS 4</text>
<text x="158" y="827.1" font-size="10.4" fill="#34548f" color="#34548f" textLength="108.3" lengthAdjust="spacingAndGlyphs">87.6% [83.0% to 92.3%]</text>
<text x="87.3" y="840.6" font-size="10.4" fill="#111" color="#111" textLength="47.9" lengthAdjust="spacingAndGlyphs">Difference</text>
<text x="157.9" y="840.6" font-size="10.4" fill="#111" color="#111" textLength="107.1" lengthAdjust="spacingAndGlyphs">-6.6% [-11.8% to -1.4%]</text>
<text x="87.3" y="866.2" font-size="10.4" fill="#111" color="#111" textLength="56.2" lengthAdjust="spacingAndGlyphs">Hazard ratio</text>
<text x="158.3" y="866.2" font-size="10.4" fill="#111" color="#111" textLength="129.7" lengthAdjust="spacingAndGlyphs">2.27 [1.35 to 3.84], p = 0.002</text>
<text x="87.1" y="892.1" font-size="10.4" fill="#111" color="#111" textLength="170.5" lengthAdjust="spacingAndGlyphs">Median observation time 37 months</text>
</svg>
</body></html>
